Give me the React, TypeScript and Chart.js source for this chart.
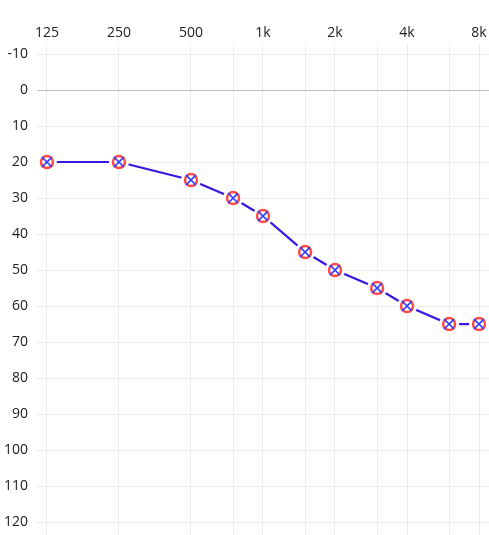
import React, { useEffect, useRef } from "react";
import { Chart, registerables } from "chart.js";

Chart.register(...registerables);

// Audiogram: hearing threshold (dB HL) per test frequency (Hz)
const frequencies = [125, 250, 500, 750, 1000, 1500, 2000, 3000, 4000, 6000, 8000];
const thresholds = [20, 20, 25, 30, 35, 45, 50, 55, 60, 65, 65];

// Octave frequencies carry a label, inter-octave ones only a grid line
const octaveTicks = [125, 250, 500, 1000, 2000, 4000, 8000];
const interOctaveTicks = [750, 1500, 3000, 6000];
const octaveLabels = ["125", "250", "500", "1k", "2k", "4k", "8k"];

const levelTicks = [-10, 0, 10, 20, 30, 40, 50, 60, 70, 80, 90, 100, 110, 120];

const lineColor = "#3a16e2";
const circleColor = "#ff4a4a";
const crossColor = "#2a3cff";
const labelFont = { family: "'Open Sans', 'Noto Sans', sans-serif", size: 14 };

export default function App() {
  const canvasRef = useRef<HTMLCanvasElement | null>(null);

  useEffect(() => {
    if (!canvasRef.current) return;
    const points = frequencies.map((f, i) => ({ x: f, y: thresholds[i] }));

    const chart = new Chart(canvasRef.current, {
      type: "line",
      data: {
        datasets: [
          {
            // blue cross on top
            data: points,
            showLine: false,
            clip: false,
            pointStyle: "crossRot",
            pointRadius: 7,
            pointHoverRadius: 7,
            pointBorderColor: crossColor,
            pointBorderWidth: 1.6,
          },
          {
            // red ring
            data: points,
            showLine: false,
            clip: false,
            pointStyle: "circle",
            pointRadius: 6,
            pointHoverRadius: 6,
            pointBackgroundColor: "#ffffff",
            pointBorderColor: circleColor,
            pointBorderWidth: 2.5,
          },
          {
            // connecting line, with a white halo masking it around each point
            data: points,
            clip: false,
            borderColor: lineColor,
            borderWidth: 2.2,
            tension: 0,
            pointStyle: "circle",
            pointRadius: 10,
            pointHoverRadius: 10,
            pointBackgroundColor: "#ffffff",
            pointBorderColor: "#ffffff",
            pointBorderWidth: 0,
          },
        ],
      },
      options: {
        animation: false,
        responsive: false,
        devicePixelRatio: 1,
        layout: { padding: 0, autoPadding: false },
        plugins: {
          legend: { display: false },
          tooltip: { enabled: false },
        },
        scales: {
          x: {
            type: "logarithmic",
            position: "top",
            min: 113.6,
            max: 8807,
            afterBuildTicks: (scale: any) => {
              scale.ticks = [...octaveTicks, ...interOctaveTicks]
                .sort((a, b) => a - b)
                .map((v) => ({ value: v }));
            },
            afterFit: (scale: any) => {
              scale.height = 44;
              scale.paddingLeft = 0;
              scale.paddingRight = 0;
            },
            ticks: {
              autoSkip: false,
              maxRotation: 0,
              padding: 3,
              color: "#222222",
              font: labelFont,
              callback: (value: any) => {
                const i = octaveTicks.indexOf(Number(value));
                return i >= 0 ? octaveLabels[i] : "";
              },
            },
            grid: {
              color: "#ececec",
              lineWidth: 1,
              drawTicks: false,
            },
            border: { display: false },
          },
          y: {
            type: "linear",
            reverse: true,
            min: -12.78,
            max: 123.6,
            afterBuildTicks: (scale: any) => {
              scale.ticks = levelTicks.map((v) => ({ value: v }));
            },
            afterFit: (scale: any) => {
              scale.width = 37;
              scale.paddingTop = 0;
              scale.paddingBottom = 0;
            },
            ticks: {
              autoSkip: false,
              padding: 9,
              color: "#222222",
              font: labelFont,
            },
            grid: {
              color: (ctx: any) => (ctx.tick && ctx.tick.value === 0 ? "#bdbdbd" : "#ececec"),
              lineWidth: 1,
              drawTicks: false,
            },
            border: { display: false },
          },
        },
      },
    });

    return () => chart.destroy();
  }, []);

  return (
    <div style={{ position: "fixed", left: 0, top: 0, width: 489, height: 535, background: "#ffffff" }}>
      <canvas ref={canvasRef} width={489} height={535} style={{ display: "block", width: 489, height: 535 }} />
    </div>
  );
}
